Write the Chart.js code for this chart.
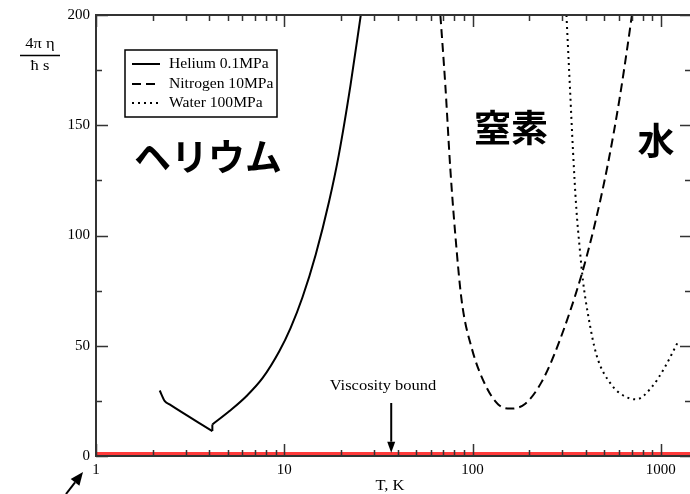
<!DOCTYPE html>
<html>
<head>
<meta charset="utf-8">
<script src="https://cdn.jsdelivr.net/npm/chart.js@4.4.1/dist/chart.umd.min.js"></script>
<style>
  html, body { margin: 0; padding: 0; background: #fff; }
  #contenedor { width: 690px; height: 494px; }
</style>
</head>
<body>
<div id="contenedor"><canvas id="graficoViscosidad"></canvas></div>
<script>
// T (K) y 4πη/ħs, leidos a ojo de la figura
// helio: rama baja, salto en el punto lambda, rama alta
const heliumLowT = [2.18, 2.32, 2.46, 4.15];
const heliumLowV = [29.7, 24.9, 23.4, 11.3];
const heliumJumpT = [4.15, 4.15];
const heliumJumpV = [11.3, 14.3];
const heliumHighT = [4.15, 5.12, 6.27, 7.68, 9.41, 10.8, 12.5, 14.7, 17.3, 19.5, 22.5, 25.5];
const heliumHighV = [14.3, 20.4, 27, 35.4, 47.5, 58, 72, 91.4, 115.4, 136.7, 168.3, 200];

const nitrogenT = [67.5, 71.7, 76.2, 81, 87.7, 99, 116.7, 137, 158.5, 190, 232.6, 285, 379, 446, 524, 604, 669, 703];
const nitrogenV = [200, 168.3, 130.5, 100.5, 70.1, 49, 32.4, 23.4, 21.5, 23.6, 33.5, 50.5, 82, 105, 132.5, 162, 187, 200];

const waterT = [315.5, 328.8, 342, 356, 371, 386.5, 411, 455, 546, 643, 740, 889, 1047, 1230];
const waterV = [200, 168.3, 138, 112.3, 94.3, 79.2, 64.1, 46, 32.4, 27.1, 25.7, 30.9, 40, 51.5];

// cota de viscosidad 1/(4π) -> 1 en estas unidades
const boundT = [1, 1430];
const boundV = [1, 1];

const xTicks = [1, 10, 100, 1000];
const yTicks = [0, 50, 100, 150, 200];
const yMinor = [25, 75, 125, 175];

const legendLabels = ['Helium 0.1MPa', 'Nitrogen 10MPa', 'Water 100MPa'];

const serif = '"Liberation Serif", "DejaVu Serif", serif';
const cjk = '"Noto Sans CJK JP", "Noto Sans CJK SC", sans-serif';

function puntos(xs, ys) {
    return xs.map((x, i) => ({ x, y: ys[i] }));
}

// minor ticks del eje log: 2..9 de cada decada
const xMinor = [];
[1, 10, 100, 1000].forEach(d => {
    for (let k = 2; k <= 9; k++) {
        if (d * k < 1430) xMinor.push(d * k);
    }
});

function flecha(ctx, x1, y1, x2, y2, largo, ancho) {
    const ang = Math.atan2(y2 - y1, x2 - x1);
    const bx = x2 - largo * Math.cos(ang);
    const by = y2 - largo * Math.sin(ang);
    ctx.beginPath();
    ctx.moveTo(x1, y1);
    ctx.lineTo(bx, by);
    ctx.stroke();
    ctx.beginPath();
    ctx.moveTo(x2, y2);
    ctx.lineTo(bx + ancho / 2 * Math.sin(ang), by - ancho / 2 * Math.cos(ang));
    ctx.lineTo(bx - ancho / 2 * Math.sin(ang), by + ancho / 2 * Math.cos(ang));
    ctx.closePath();
    ctx.fill();
}

// texto serif algo ensanchado, como en la figura original
function textoAncho(ctx, txt, x, y, align, factor = 1.1) {
    ctx.save();
    ctx.translate(x, y);
    ctx.scale(factor, 1);
    ctx.textAlign = align;
    ctx.fillText(txt, 0, 0);
    ctx.restore();
}

const marcoPlugin = {
    id: 'marco',
    afterDraw(chart) {
        const { ctx, chartArea: a, scales: { x, y } } = chart;
        const derecha = chart.width;
        ctx.save();

        // marco (el lado derecho queda fuera de la imagen)
        ctx.strokeStyle = '#333';
        ctx.lineWidth = 2;
        ctx.beginPath();
        ctx.moveTo(derecha + 2, a.top);
        ctx.lineTo(a.left, a.top);
        ctx.lineTo(a.left, a.bottom);
        ctx.lineTo(derecha + 2, a.bottom);
        ctx.stroke();

        // ticks hacia dentro
        ctx.lineWidth = 1.5;
        ctx.beginPath();
        xTicks.forEach(v => {
            const px = Math.round(x.getPixelForValue(v)) + 0.5;
            ctx.moveTo(px, a.bottom); ctx.lineTo(px, a.bottom - 12);
            ctx.moveTo(px, a.top); ctx.lineTo(px, a.top + 12);
        });
        xMinor.forEach(v => {
            const px = Math.round(x.getPixelForValue(v)) + 0.5;
            ctx.moveTo(px, a.bottom); ctx.lineTo(px, a.bottom - 6);
            ctx.moveTo(px, a.top); ctx.lineTo(px, a.top + 6);
        });
        yTicks.forEach(v => {
            const py = Math.round(y.getPixelForValue(v)) + 0.5;
            ctx.moveTo(a.left, py); ctx.lineTo(a.left + 12, py);
            ctx.moveTo(derecha, py); ctx.lineTo(derecha - 10, py);
        });
        yMinor.forEach(v => {
            const py = Math.round(y.getPixelForValue(v)) + 0.5;
            ctx.moveTo(a.left, py); ctx.lineTo(a.left + 6, py);
            ctx.moveTo(derecha, py); ctx.lineTo(derecha - 5, py);
        });
        ctx.stroke();

        // titulo eje y: 4πη / ħs
        ctx.fillStyle = '#000';
        ctx.strokeStyle = '#000';
        ctx.textBaseline = 'middle';
        ctx.font = '15px ' + serif;
        textoAncho(ctx, '4π η', 40, 44, 'center');
        textoAncho(ctx, 'ħ s', 40, 66, 'center');
        ctx.lineWidth = 1.5;
        ctx.beginPath();
        ctx.moveTo(20, 55.5); ctx.lineTo(60, 55.5);
        ctx.stroke();

        // titulo eje x
        textoAncho(ctx, 'T, K', 390, 486, 'center');

        // leyenda
        ctx.lineWidth = 1.5;
        ctx.strokeRect(125, 50, 152, 67);
        const filas = [64, 84, 103];
        const estilos = [[], [9, 5], [2, 4]];
        estilos.forEach((dash, i) => {
            ctx.setLineDash(dash);
            ctx.lineWidth = 2;
            ctx.beginPath();
            ctx.moveTo(132, filas[i]);
            ctx.lineTo(160, filas[i]);
            ctx.stroke();
            ctx.setLineDash([]);
            textoAncho(ctx, legendLabels[i], 169, filas[i], 'left', 1.04);
        });

        // etiquetas en japones
        ctx.textAlign = 'center';
        ctx.font = 'bold 37px ' + cjk;
        ctx.fillText('ヘリウム', 208, 157);
        ctx.fillText('窒素', 511, 128);
        ctx.fillText('水', 656, 141);

        // cota de viscosidad
        ctx.font = '15px ' + serif;
        textoAncho(ctx, 'Viscosity bound', 383, 386, 'center');
        ctx.lineWidth = 2;
        const fx = x.getPixelForValue(37);
        flecha(ctx, fx, 403, fx, y.getPixelForValue(1.5), 11, 8);

        // flecha abajo a la izquierda
        flecha(ctx, 66, 494, 83, 472, 13, 11);

        ctx.restore();
    }
};

const linea = (datos, dash) => ({
    data: datos,
    borderColor: '#000',
    borderWidth: 2,
    borderDash: dash,
    showLine: true,
    pointRadius: 0,
    cubicInterpolationMode: 'monotone'
});

new Chart(document.getElementById('graficoViscosidad'), {
    type: 'scatter',
    data: {
        datasets: [
            { label: legendLabels[0], ...linea(puntos(heliumLowT, heliumLowV), []) },
            { label: legendLabels[0], ...linea(puntos(heliumJumpT, heliumJumpV), []) },
            { label: legendLabels[0], ...linea(puntos(heliumHighT, heliumHighV), []) },
            { label: legendLabels[1], ...linea(puntos(nitrogenT, nitrogenV), [9, 5]) },
            { label: legendLabels[2], ...linea(puntos(waterT, waterV), [2, 4]) },
            {
                label: 'Viscosity bound',
                data: puntos(boundT, boundV),
                borderColor: '#ff3b3b',
                borderWidth: 3.5,
                showLine: true,
                pointRadius: 0
            }
        ]
    },
    options: {
        responsive: true,
        maintainAspectRatio: false,
        animation: false,
        layout: { padding: { top: 13, right: 0, bottom: 0, left: 0 } },
        plugins: {
            legend: { display: false },
            tooltip: { enabled: false }
        },
        scales: {
            x: {
                type: 'logarithmic',
                min: 1,
                max: 1430,
                grid: { display: false, drawTicks: false },
                border: { display: false },
                afterBuildTicks: s => { s.ticks = xTicks.map(v => ({ value: v })); },
                afterFit: s => { s.height = 38; },
                ticks: {
                    color: '#000',
                    font: { family: serif, size: 15 },
                    padding: 5,
                    maxRotation: 0,
                    autoSkip: false,
                    callback: v => String(v)
                }
            },
            y: {
                min: 0,
                max: 200,
                grid: { display: false, drawTicks: false },
                border: { display: false },
                afterBuildTicks: s => { s.ticks = yTicks.map(v => ({ value: v })); },
                afterFit: s => { s.width = 96; },
                ticks: {
                    color: '#000',
                    font: { family: serif, size: 15 },
                    padding: 6,
                    callback: v => String(v)
                }
            }
        }
    },
    plugins: [marcoPlugin]
});
</script>
</body>
</html>
